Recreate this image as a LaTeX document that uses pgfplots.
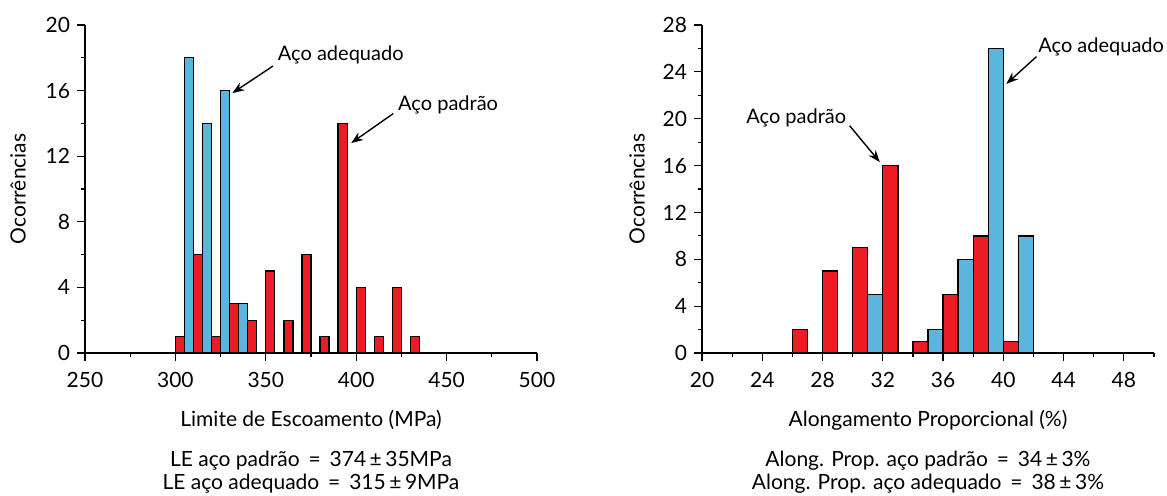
\documentclass[border=0pt]{standalone}
\usepackage{fontspec}
\setmainfont{Lato}
\usepackage{pgfplots}
\pgfplotsset{compat=1.18}
\usetikzlibrary{arrows.meta}
\definecolor{barred}{RGB}{237,28,36}
\definecolor{barblue}{RGB}{91,181,221}
\tikzset{ann/.style={-{Stealth[length=6pt,width=4.5pt]}, line width=0.7pt},
  annt/.style={inner sep=0pt, font=\fontsize{10}{12}\selectfont}}
\pgfplotsset{
  histo/.style={
    scale only axis,
    width=226pt, height=164pt,
    axis x line=bottom, axis y line=left,
    axis line style={-, line width=0.6pt},
    tick align=outside,
    major tick length=4pt, minor tick length=2pt,
    tick style={line width=0.6pt, black},
    ymin=0,
    font=\fontsize{10.5}{12.6}\selectfont,
    /pgf/number format/assume math mode=true,
    /pgf/number format/1000 sep={},
    ybar, bar width=5,
    ylabel={Ocorrências},
    ylabel style={at={(axis description cs:0,0.5)}, anchor=center, yshift=33.5pt},
    xlabel style={at={(axis description cs:0.5,0)}, anchor=center, yshift=-33.5pt},
    xticklabel style={yshift=-2pt},
    clip=false,
  },
  redbar/.style={fill=barred, draw=black, line width=0.65pt, bar shift=0pt},
  bluebar/.style={fill=barblue, draw=black, line width=0.65pt, bar shift=0pt},
}
\begin{document}
\begin{tikzpicture}
\begin{axis}[histo, at={(0pt,0pt)}, anchor=origin,
  xmin=250, xmax=500, ymax=20,
  xtick={250,300,...,500}, minor xtick={275,325,...,475},
  ytick={0,4,...,20}, minor ytick={2,6,...,18},
  xlabel={Limite de Escoamento (MPa)}]
\addplot[bluebar] coordinates {(307.5,18) (317.5,14) (327.5,16) (337.5,3)};
\addplot[redbar] coordinates {(302.5,1) (312.5,6) (322.5,1) (332.5,3) (342.5,2) (352.5,5) (362.5,2) (372.5,6) (382.5,1) (392.5,14) (402.5,4) (412.5,1) (422.5,4) (432.5,1)};
\node[annt, anchor=west] at (axis cs:356.5,18.2) {Aço adequado};
\draw[ann] (axis cs:354,17.5) -- (axis cs:331.5,15.85);
\node[annt, anchor=west] at (axis cs:423,15.1) {Aço padrão};
\draw[ann] (axis cs:420.5,14.6) -- (axis cs:397.2,12.8);
\node at (axis description cs:0.5,0) [yshift=-54pt] {LE aço padrão \,=\, 374\,±\,35MPa};
\node at (axis description cs:0.5,0) [yshift=-65.5pt] {LE aço adequado \,=\, 315\,±\,9MPa};
\end{axis}
\begin{axis}[histo, at={(308.5pt,0pt)}, anchor=origin,
  xmin=20, xmax=50, ymax=28, bar width=1,
  xtick={20,24,...,48}, minor xtick={22,26,...,50},
  ytick={0,4,...,28}, minor ytick={2,6,...,26},
  ylabel style={yshift=-1pt},
  xlabel={Alongamento Proporcional (\%)}]
\addplot[redbar] coordinates {(26.5,2) (28.5,7) (30.5,9) (32.5,16) (34.5,1) (36.5,5) (38.5,10) (40.5,1)};
\addplot[bluebar] coordinates {(31.5,5) (35.5,2) (37.5,8) (39.5,26) (41.5,10)};
\node[annt, anchor=east] at (axis cs:29.6,20.1) {Aço padrão};
\draw[ann] (axis cs:29.8,19.4) -- (axis cs:31.8,16.3);
\node[annt, anchor=west] at (axis cs:42.3,26.1) {Aço adequado};
\draw[ann] (axis cs:42.2,25.3) -- (axis cs:40.2,22.97);
\node at (axis description cs:0.5,0) [yshift=-54pt] {Along. Prop. aço padrão \,=\, 34\,±\,3\%};
\node at (axis description cs:0.5,0) [yshift=-65.5pt] {Along. Prop. aço adequado \,=\, 38\,±\,3\%};
\end{axis}
\pgfresetboundingbox
\useasboundingbox (-42.5pt,-71pt) rectangle (541pt,176.5pt);
\end{tikzpicture}
\end{document}
